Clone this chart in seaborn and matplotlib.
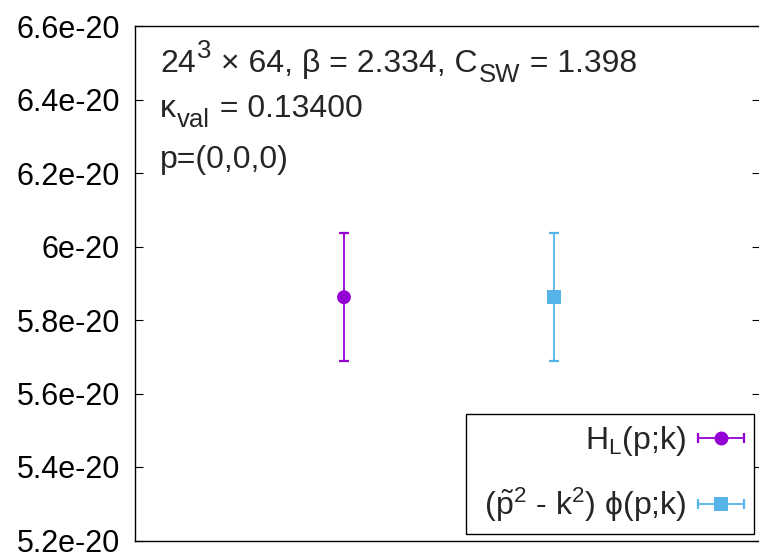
import numpy as np
import pandas as pd
import matplotlib
matplotlib.use("Agg")
import matplotlib.pyplot as plt
import seaborn as sns
from matplotlib.legend_handler import HandlerBase
from matplotlib.lines import Line2D

# ---- data ----
series_labels = [r"H$_{\rm L}$(p;k)", " ($\\tilde{\\rm p}^2$ - k$^2$) \u03d5(p;k)"]
series_keys = ["H", "phi"]
x_pos = [1, 2]
y_vals = [5.862e-20, 5.863e-20]
y_errs = [0.1735e-20, 0.1735e-20]
colors = ["#9400D3", "#56B4E9"]
markers = ["o", "s"]
y_ticks = [5.2e-20, 5.4e-20, 5.6e-20, 5.8e-20, 6.0e-20, 6.2e-20, 6.4e-20, 6.6e-20]
y_ticklabels = ["5.2e-20", "5.4e-20", "5.6e-20", "5.8e-20", "6e-20", "6.2e-20", "6.4e-20", "6.6e-20"]
# info text pieces: (text, role) with role 'n' normal, 'sup' superscript, 'sub' subscript
info_line1 = [("24", "n"), ("3", "sup"), (" × 64, β = 2.334, C", "n"), ("SW", "sub"), (" = 1.398", "n")]
info_line2 = [("κ", "n"), ("val", "sub"), (" = 0.13400", "n")]
info_line3 = [("p=(0,0,0)", "n")]

sns.set_style("white")
plt.rcParams["font.family"] = ["Liberation Sans", "DejaVu Sans"]
plt.rcParams["mathtext.fontset"] = "custom"
plt.rcParams["mathtext.rm"] = "Liberation Sans"
plt.rcParams["mathtext.it"] = "Liberation Sans"
plt.rcParams["mathtext.bf"] = "Liberation Sans:bold"
plt.rcParams["mathtext.sf"] = "Liberation Sans"

FS = 22
W, H = 759, 554
fig = plt.figure(figsize=(W / 100, H / 100), dpi=100)
L, R, T, B = 135, 760, 26, 540.5
ax = fig.add_axes([L / W, (H - B) / H, (R - L) / W, (B - T) / H])

df = pd.DataFrame({"x": x_pos, "y": y_vals, "err": y_errs, "series": series_keys})

sns.scatterplot(data=df, x="x", y="y", hue="series", style="series",
                palette=colors, markers=markers, s=100, linewidth=0,
                legend=False, ax=ax, zorder=3)
for i, row in df.iterrows():
    ax.errorbar(row["x"], row["y"], yerr=row["err"], fmt="none",
                ecolor=colors[i], elinewidth=1.3, capsize=3.5, capthick=1.6, zorder=2)

ax.set_xlim(0.0048, 2.981)
ax.set_ylim(5.2e-20, 6.6e-20)
ax.set_yticks(y_ticks)
ax.set_yticklabels(y_ticklabels)
ax.set_xticks([])
ax.set_xlabel("")
ax.set_ylabel("")
ax.tick_params(axis="y", direction="in", length=6, width=0.8, pad=11,
               labelsize=FS, left=True, right=True, colors="black")
for sp in ax.spines.values():
    sp.set_color("black")
    sp.set_linewidth(1.0)

# ---- info text, gnuplot-style enhanced text built from pieces ----
renderer = fig.canvas.get_renderer()
role_style = {"n": (23, 0), "sup": (18.5, 14), "sub": (18.5, -10)}


def draw_pieces(pieces, x0, baseline):
    x = x0
    for txt, role in pieces:
        size, dy = role_style[role]
        t = fig.text(x / W, 1 - (baseline - dy) / H, txt, fontsize=size,
                     va="baseline", ha="left")
        bb = t.get_window_extent(renderer)
        x = bb.x1 + 1


for pieces, b in zip([info_line1, info_line2, info_line3], [72, 117, 168]):
    draw_pieces(pieces, 160, b)


class ErrHandler(HandlerBase):
    def __init__(self, color, marker):
        super().__init__()
        self.color = color
        self.marker = marker

    def create_artists(self, legend, orig_handle, xdescent, ydescent, width,
                       height, fontsize, trans):
        yc = height / 2 - ydescent
        x0, x1 = -xdescent, -xdescent + width
        line = Line2D([x0, x1], [yc, yc], color=self.color, lw=1.3)
        caps = Line2D([x0, x1], [yc, yc], color=self.color, lw=0,
                      marker="|", markersize=7, markeredgewidth=1.6)
        mk = Line2D([(x0 + x1) / 2], [yc], color=self.color, lw=0,
                    marker=self.marker, markersize=10, markeredgewidth=0)
        arts = [line, caps, mk]
        for a in arts:
            a.set_transform(trans)
        return arts


aw = R - L
ah = B - T
LFS = 23
handles = [Line2D([], [], color=c) for c in colors]
hmap = {h: ErrHandler(c, m) for h, c, m in zip(handles, colors, markers)}
leg = ax.legend(handles, series_labels, handler_map=hmap, loc="lower right",
                bbox_to_anchor=((754 - L) / aw, (B - 534) / ah),
                borderaxespad=0, markerfirst=False, fontsize=LFS,
                handlelength=1.42, handletextpad=0.38, labelspacing=0.85,
                borderpad=0.32, frameon=True, fancybox=False, framealpha=1,
                edgecolor="black")
leg.get_frame().set_linewidth(1.0)

fig.savefig("out.png", dpi=100)
